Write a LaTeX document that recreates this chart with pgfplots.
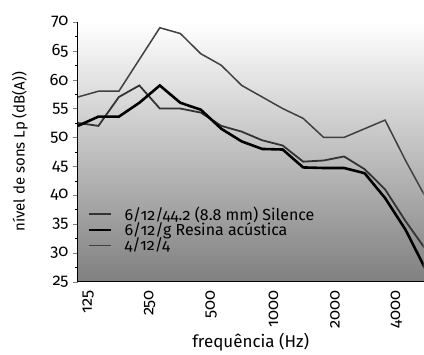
\documentclass[border=0pt]{standalone}
\usepackage{fontspec}
\setmainfont{Fira Sans}[Numbers=OldStyle]
\usepackage{pgfplots}
\pgfplotsset{compat=1.18}
\pgfplotstableread{
i top res sil
0 57 52 52.5
1 58 53.6 52
2 58 53.6 57
3 63.5 56 59
4 69 59 55
5 68 56 55
6 64.5 54.8 54.3
7 62.5 51.5 52
8 59 49.3 51
9 57 48 49.5
10 55 47.9 48.6
11 53.3 44.8 45.8
12 50 44.7 46
13 50 44.7 46.7
14 51.5 43.8 44.5
15 53 39.5 41
16 46 34 35.5
17 39.5 27 30.5
}\data
\begin{document}
\begin{tikzpicture}
\begin{axis}[
 name=ax,
 scale only axis, width=346pt, height=260pt,
 xmin=0, xmax=16.88, ymin=25, ymax=70,
 axis lines*=left,
 axis line style={black, line width=0.9pt},
 axis background/.style={shade, top color=white, bottom color=black!50},
 tick align=outside,
 /pgf/number format/assume math mode=true,
 ticklabel style={font=\fontsize{16.5}{18}\selectfont},
 ytick={25,30,...,70},
 minor y tick num=1,
 major tick length=5pt, minor tick length=3pt,
 xtick={0.5,3.5,6.5,9.55,12.55,15.55},
 xticklabels={125,250,500,1000,2000,4000},
 x tick style={draw=none},
 minor xtick={0,...,16},
 x tick label style={rotate=90, anchor=east},
 y tick label style={xshift=-1pt},
 xlabel={frequência (Hz)},
 ylabel={nível de sons Lp (dB(A))},
 xlabel style={font=\fontsize{17}{19}\selectfont, yshift=2pt},
 ylabel style={font=\fontsize{15}{17}\selectfont, at={(axis description cs:-0.135,0.5)}, anchor=south},
 legend style={at={(0.02,0.305)}, anchor=north west, draw=none, fill=none,
   font=\fontsize{16}{17}\selectfont, row sep=-3pt, column sep=10pt,
   legend cell align=left},
 legend image code/.code={\draw[#1] (0pt,0pt) -- (22pt,0pt);},
]
\pgfplotsset{every minor tick/.append style={draw=black}}
\addplot[black!80, line width=1.8pt] table[x=i,y=sil]{\data};
\addlegendentry{6/12/44.2 (8.8 mm) Silence}
\addplot[black, line width=2.6pt] table[x=i,y=res]{\data};
\addlegendentry{6/12/g Resina acústica}
\addplot[black!75, line width=1.5pt] table[x=i,y=top]{\data};
\addlegendentry{4/12/4}
\end{axis}
\path ([xshift=-78pt,yshift=22pt]ax.north west);
\end{tikzpicture}
\end{document}
